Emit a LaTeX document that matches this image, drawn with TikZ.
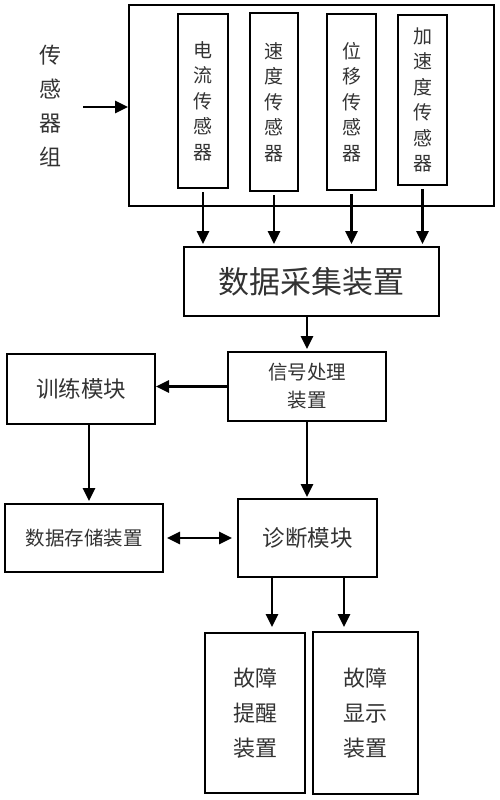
\documentclass[tikz,border=0pt]{standalone}
\usepackage{fontspec}
\newfontfamily\cjk{Noto Sans CJK SC}
\usetikzlibrary{arrows.meta}
\begin{document}
\begin{tikzpicture}[x=1pt,y=-1pt,
  box/.style={draw, line width=2pt, inner sep=0pt, text=black!80},
  arr/.style={line width=2.6pt, -{Triangle[width=12pt,length=13pt]}},
  darr/.style={line width=2.6pt, {Triangle[width=12pt,length=13pt]}-{Triangle[width=12pt,length=13pt]}},
  vtxt/.style={align=center, font=\cjk\fontsize{19}{25.5}\selectfont},
]
\path[use as bounding box, fill=white] (0,0) rectangle (500,800);
% sensor group
\node[box, minimum width=365pt, minimum height=201pt] (grp) at (311.5,105.5) {};
\node[box, vtxt, minimum width=50pt, minimum height=174pt] (s1) at (203,101) {电\\流\\传\\感\\器};
\node[box, vtxt, minimum width=48pt, minimum height=178pt] (s2) at (274,102) {速\\度\\传\\感\\器};
\node[box, vtxt, minimum width=49pt, minimum height=176pt] (s3) at (351.5,102) {位\\移\\传\\感\\器};
\node[box, vtxt, minimum width=49pt, minimum height=170pt] (s4) at (422.5,100) {加\\速\\度\\传\\感\\器};
\node[align=center, text=black!80, font=\cjk\fontsize{22}{34}\selectfont] (lbl) at (50,106) {传\\感\\器\\组};
\coordinate (ga) at (83,107);
% other boxes
\node[box, minimum width=255pt, minimum height=69pt, font=\cjk\fontsize{31}{34}\selectfont] (daq) at (311.5,281.5) {数据采集装置};
\node[box, minimum width=158pt, minimum height=69pt, align=center, font=\cjk\fontsize{19.5}{28}\selectfont] (sig) at (307,386.5) {信号处理\\装置};
\node[box, minimum width=148pt, minimum height=70pt, font=\cjk\fontsize{22.5}{26}\selectfont] (train) at (81,389) {训练模块};
\node[box, minimum width=158pt, minimum height=68pt, font=\cjk\fontsize{19.5}{24}\selectfont] (store) at (84,538) {数据存储装置};
\node[box, minimum width=139pt, minimum height=78pt, font=\cjk\fontsize{22.5}{26}\selectfont] (diag) at (307.5,538) {诊断模块};
\node[box, minimum width=100pt, minimum height=160pt, align=center, font=\cjk\fontsize{22}{35}\selectfont] (alarm) at (255,713) {故障\\提醒\\装置};
\node[box, minimum width=105pt, minimum height=162pt, align=center, font=\cjk\fontsize{22}{35}\selectfont] (disp) at (365.5,713) {故障\\显示\\装置};
% connectors
\draw[arr] (ga) -- (ga -| grp.west);
\foreach \s in {s1,s2,s3,s4}
  \draw[arr, shorten <=3pt, shorten >=2pt] (\s.south) -- (\s.south |- daq.north);
\draw[arr, shorten >=2pt] (sig.north |- daq.south) -- (sig.north);
\draw[arr] (sig.west) -- (sig.west -| train.east);
\draw[arr, shorten >=2pt] ([xshift=8pt]train.south) -- ([xshift=8pt]train.south |- store.north);
\draw[arr, shorten >=1pt] (sig.south) -- (sig.south |- diag.north);
\draw[darr, shorten <=3pt, shorten >=5pt] (store.east) -- (diag.west);
\draw[arr, shorten >=5pt] ([xshift=-35.5pt]diag.south) -- ([xshift=-35.5pt]diag.south |- alarm.north);
\draw[arr, shorten >=4pt] ([xshift=36.5pt]diag.south) -- ([xshift=36.5pt]diag.south |- disp.north);
\end{tikzpicture}
\end{document}
